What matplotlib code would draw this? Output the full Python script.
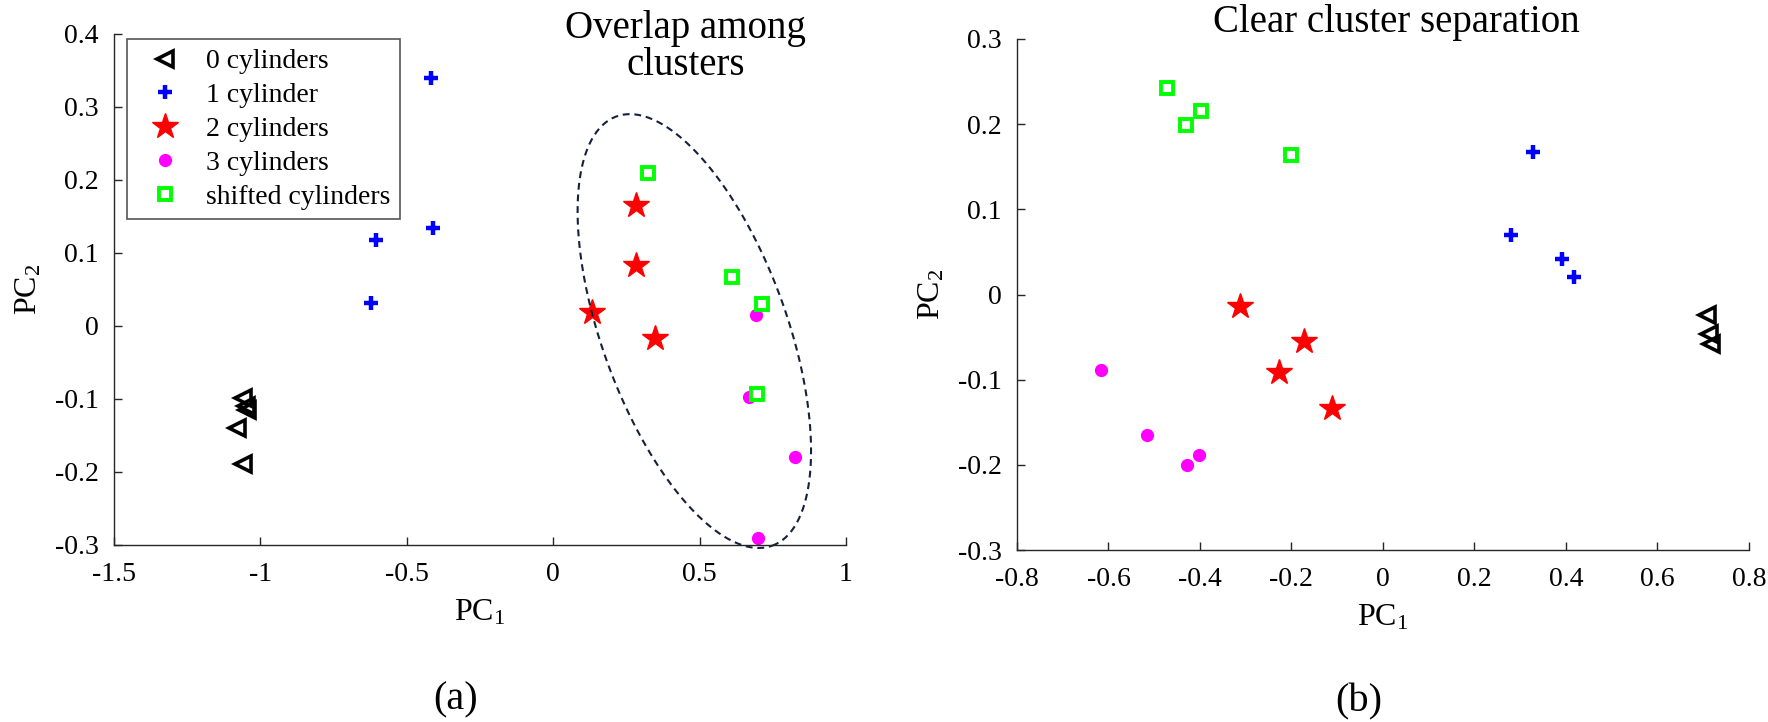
#
# plot.py - PCA scatter of the cylinder classes, two panels
#

import numpy as np
import matplotlib
matplotlib.use("Agg")
import matplotlib.pyplot as plt

plt.rcParams['font.family'] = ['Liberation Serif', 'DejaVu Serif']
plt.rcParams['mathtext.fontset'] = 'custom'
plt.rcParams['mathtext.rm'] = 'Liberation Serif'
plt.rcParams['mathtext.it'] = 'Liberation Serif:italic'
plt.rcParams['axes.unicode_minus'] = False

# class names
labels = ["0 cylinders", "1 cylinder", "2 cylinders", "3 cylinders", "shifted cylinders"]

# panel (a): PC1 / PC2 per class
a_tri_x = [-1.059, -1.050, -1.046, -1.079, -1.059]
a_tri_y = [-0.099, -0.109, -0.115, -0.140, -0.189]
a_plus_x = [-0.418, -0.604, -0.412, -0.622]
a_plus_y = [0.340, 0.118, 0.1335, 0.032]
a_star_x = [0.284, 0.284, 0.134, 0.346]
a_star_y = [0.165, 0.084, 0.019, -0.017]
a_dot_x = [0.694, 0.668, 0.825, 0.698]
a_dot_y = [0.015, -0.097, -0.179, -0.290]
a_sq_x = [0.325, 0.609, 0.712, 0.695]
a_sq_y = [0.209, 0.0665, 0.030, -0.093]

# panel (b)
b_tri_x = [0.708, 0.713, 0.718]
b_tri_y = [-0.024, -0.046, -0.058]
b_plus_x = [0.327, 0.280, 0.392, 0.418]
b_plus_y = [0.167, 0.070, 0.042, 0.020]
b_star_x = [-0.3115, -0.173, -0.227, -0.1115]
b_star_y = [-0.014, -0.055, -0.091, -0.133]
b_dot_x = [-0.617, -0.516, -0.4275, -0.403]
b_dot_y = [-0.089, -0.1655, -0.200, -0.189]
b_sq_x = [-0.471, -0.431, -0.397, -0.201]
b_sq_y = [0.2425, 0.199, 0.215, 0.164]

# dashed ellipse round the overlapping clusters (center, two half-axis vectors)
ell_center = (0.482, -0.007)
ell_u = (0.266, -0.294)
ell_v = (0.297, 0.0431)

a_xticks = [-1.5, -1, -0.5, 0, 0.5, 1]
a_yticks = [-0.3, -0.2, -0.1, 0, 0.1, 0.2, 0.3, 0.4]
b_xticks = [-0.8, -0.6, -0.4, -0.2, 0, 0.2, 0.4, 0.6, 0.8]
b_yticks = [-0.3, -0.2, -0.1, 0, 0.1, 0.2, 0.3]

fig = plt.figure(figsize=(17.68, 7.22), dpi=100)
ax1 = fig.add_axes([0.0645, 0.2452, 0.414, 0.7078])
ax2 = fig.add_axes([0.5752, 0.2382, 0.414, 0.7078])

def draw(ax, tx, ty, px, py, sx, sy, cx, cy, qx, qy):
    """ the five classes, same markers in both panels """
    ax.plot(tx, ty, '<', ms=12, mfc='none', mec='black', mew=2.6, ls='none', clip_on=False, label=labels[0])
    ax.plot(px, py, '+', ms=10, mec='#0000ff', mew=3.2, ls='none', clip_on=False, label=labels[1])
    ax.plot(sx, sy, '*', ms=19, mfc='#ff0000', mec='#ff0000', ls='none', clip_on=False, label=labels[2])
    ax.plot(cx, cy, 'o', ms=8.5, mfc='#ff00ff', mec='#ff00ff', ls='none', clip_on=False, label=labels[3])
    ax.plot(qx, qy, 's', ms=8.5, mfc='white', mec='#00ff00', mew=2.8, ls='none', clip_on=False, label=labels[4])

def style(ax, xlim, ylim, xt, yt):
    ax.set_xlim(xlim)
    ax.set_ylim(ylim)
    ax.set_xticks(xt)
    ax.set_yticks(yt)
    ax.set_xticklabels([('%g' % v) for v in xt])
    ax.set_yticklabels([('%g' % v) for v in yt])
    for s in ['top', 'right']:
        ax.spines[s].set_visible(False)
    for s in ['left', 'bottom']:
        ax.spines[s].set_color('#262626')
        ax.spines[s].set_linewidth(1.0)
    ax.tick_params(direction='in', length=6, width=1.0, color='#262626', labelsize=20, labelcolor='black')
    ax.tick_params(axis='y', pad=11)
    ax.tick_params(axis='x', pad=12)
    ax.set_xlabel(r'PC$_{\mathrm{1}}$', fontsize=23, labelpad=8)
    ax.set_ylabel(r'PC$_{\mathrm{2}}$', fontsize=23, labelpad=8)

draw(ax1, a_tri_x, a_tri_y, a_plus_x, a_plus_y, a_star_x, a_star_y, a_dot_x, a_dot_y, a_sq_x, a_sq_y)
draw(ax2, b_tri_x, b_tri_y, b_plus_x, b_plus_y, b_star_x, b_star_y, b_dot_x, b_dot_y, b_sq_x, b_sq_y)

t = np.linspace(0, 2 * np.pi, 300)
ex = ell_center[0] + ell_u[0] * np.cos(t) + ell_v[0] * np.sin(t)
ey = ell_center[1] + ell_u[1] * np.cos(t) + ell_v[1] * np.sin(t)
ax1.plot(ex, ey, color='#14213d', lw=1.5, ls=(0, (3.3, 2.3)), clip_on=False)

style(ax1, (-1.5, 1), (-0.3, 0.4), a_xticks, a_yticks)
style(ax2, (-0.8, 0.8), (-0.3, 0.3), b_xticks, b_yticks)

leg = ax1.legend(loc='upper left', bbox_to_anchor=(0.018, 0.9896), borderaxespad=0,
                 fontsize=20, numpoints=1, handlelength=2.0, handletextpad=0.5,
                 labelspacing=0.3, borderpad=0.35, fancybox=False, framealpha=1)
leg.get_frame().set_edgecolor('#555555')
leg.get_frame().set_linewidth(1.2)

# multi-line text: baseline refers to the last line ("clusters")
ax1.text(0.781, 0.920, "Overlap among\nclusters", transform=ax1.transAxes, ha='center',
         va='baseline', fontsize=28, linespacing=1.0)
ax2.text(0.519, 1.0143, "Clear cluster separation", transform=ax2.transAxes, ha='center',
         va='baseline', fontsize=28)

fig.text(456 / 1768, 1 - 700 / 722, "(a)", ha='center', va='center', fontsize=29)
fig.text(1359 / 1768, 1 - 702 / 722, "(b)", ha='center', va='center', fontsize=29)

fig.savefig("out.png", dpi=100)
